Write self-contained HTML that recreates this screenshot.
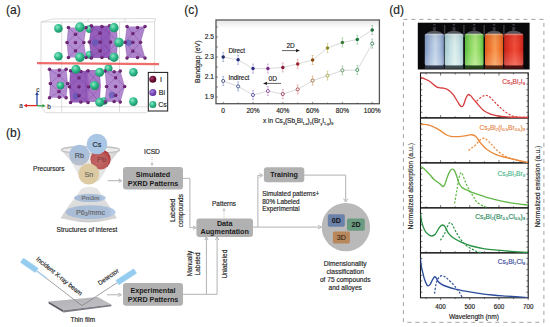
<!DOCTYPE html>
<html><head><meta charset="utf-8"><style>
html,body{margin:0;padding:0;background:#fff;width:550px;height:327px;overflow:hidden;}
svg{display:block;font-family:"Liberation Sans",sans-serif;}
</style></head><body><svg width="550" height="327" viewBox="0 0 550 327" font-family="Liberation Sans, sans-serif"><defs>
<radialGradient id="gCs" cx="0.38" cy="0.35" r="0.7"><stop offset="0" stop-color="#8fe8c8"/><stop offset="0.45" stop-color="#35c08e"/><stop offset="1" stop-color="#158a62"/></radialGradient>
<radialGradient id="gI" cx="0.38" cy="0.35" r="0.7"><stop offset="0" stop-color="#a84874"/><stop offset="0.5" stop-color="#6e0c34"/><stop offset="1" stop-color="#4a0420"/></radialGradient>
<radialGradient id="gBi" cx="0.38" cy="0.35" r="0.7"><stop offset="0" stop-color="#a88ad8"/><stop offset="0.5" stop-color="#7a4ab8"/><stop offset="1" stop-color="#5a2a98"/></radialGradient>
<linearGradient id="gFun" x1="0" y1="0" x2="1" y2="0"><stop offset="0" stop-color="#d4d4d4"/><stop offset="0.2" stop-color="#e6e6e6"/><stop offset="0.5" stop-color="#ececec"/><stop offset="0.8" stop-color="#e2e2e2"/><stop offset="1" stop-color="#cfcfcf"/></linearGradient><linearGradient id="gRb" x1="0" y1="0" x2="0" y2="1"><stop offset="0" stop-color="#a8c2e0"/><stop offset="0.6" stop-color="#aebfd6"/><stop offset="1" stop-color="#bcc0c8"/></linearGradient>
<linearGradient id="gCone" x1="0" y1="0" x2="0" y2="1"><stop offset="0" stop-color="#e8e8e8"/><stop offset="0.5" stop-color="#dcdcdc"/><stop offset="1" stop-color="#d0d0d0"/></linearGradient>
<linearGradient id="gFilm" x1="0" y1="0" x2="1" y2="1"><stop offset="0" stop-color="#b2b2b6"/><stop offset="1" stop-color="#c2c2c6"/></linearGradient><radialGradient id="gDot" cx="0.4" cy="0.35" r="0.7"><stop offset="0" stop-color="#8a3a90"/><stop offset="1" stop-color="#4a0a52"/></radialGradient><radialGradient id="gPb" cx="0.42" cy="0.58" r="0.62"><stop offset="0" stop-color="#c26a6a"/><stop offset="0.75" stop-color="#ba5656"/><stop offset="1" stop-color="#a82a2a"/></radialGradient><linearGradient id="vov" x1="0" y1="0" x2="0" y2="1"><stop offset="0" stop-color="#000" stop-opacity="0.08"/><stop offset="0.5" stop-color="#fff" stop-opacity="0"/><stop offset="1" stop-color="#fff" stop-opacity="0.22"/></linearGradient><linearGradient id="gEl" x1="0" y1="0" x2="1" y2="0"><stop offset="0" stop-color="#a8bcd6"/><stop offset="0.85" stop-color="#aabed8"/><stop offset="1" stop-color="#b8d0ec"/></linearGradient><linearGradient id="gTop" x1="0" y1="0" x2="0" y2="1"><stop offset="0" stop-color="#e8e8e8"/><stop offset="1" stop-color="#ffffff"/></linearGradient></defs><rect width="550" height="327" fill="#fff"/><text x="6" y="14.2" font-size="12" fill="#222" stroke="#222" stroke-width="0.15">(a)</text><text x="184.2" y="14.2" font-size="12" fill="#222" stroke="#222" stroke-width="0.15">(c)</text><text x="389.3" y="14.2" font-size="12" fill="#222" stroke="#222" stroke-width="0.15">(d)</text><text x="6" y="136.8" font-size="12" fill="#222" stroke="#222" stroke-width="0.15">(b)</text><path d="M41 22 L154.5 22 M41 22 L52.7 19 L155.6 18.6 L154.5 22 M41 22 L41 106.8 M154.5 22 L154.5 106.8 M41 106.8 L150 106.8 M45.6 112.7 L146 112.7 M41 106.8 L45.6 112.7 M146 112.7 L154.5 106.8 M61.7 22 L61.7 112 M119.5 22 L119.5 112 M88 19 L88 22 M125 19 L125 22" stroke="#c4c4c4" stroke-width="0.6" fill="none"/><circle cx="89.6" cy="29" r="4" fill="url(#gCs)"/><circle cx="89.6" cy="54.7" r="4" fill="url(#gCs)"/><circle cx="108.5" cy="68.6" r="4" fill="url(#gCs)"/><circle cx="104" cy="101" r="3.8" fill="url(#gCs)"/><path d="M68.4 27.6 L86 27.6 L83.8 42.5 L86 57.4 L68.4 57.4 L67.0 42.5 Z" fill="#a577c8" fill-opacity="0.85"/><path d="M68.4 27.6 L75.4 34.156 L86 27.6 M67.0 42.5 L75.4 34.156 L83.8 42.5 L75.4 50.844 L67.0 42.5 M68.4 57.4 L75.4 50.844 L86 57.4 M68.4 27.6 L67.0 42.5 L68.4 57.4 M86 27.6 L83.8 42.5 L86 57.4" stroke="#6a2c92" stroke-width="0.5" stroke-opacity="0.6" fill="none"/><path d="M91.3 25.8 L109.5 25.8 L110.5 41.85 L109.5 57.9 L91.3 57.9 L89.3 41.85 Z" fill="#8a4cb2" fill-opacity="0.9"/><path d="M91.3 25.8 L99.9 32.862 L109.5 25.8 M89.3 41.85 L99.9 32.862 L110.5 41.85 L99.9 50.837999999999994 L89.3 41.85 M91.3 57.9 L99.9 50.837999999999994 L109.5 57.9 M91.3 25.8 L89.3 41.85 L91.3 57.9 M109.5 25.8 L110.5 41.85 L109.5 57.9" stroke="#6a2c92" stroke-width="0.5" stroke-opacity="0.6" fill="none"/><circle cx="95.3" cy="42.5" r="3.2" fill="#5a58b8" opacity="0.7"/><path d="M101 26.4 L116.5 26.4 L117.5 41.9 L116.5 57.4 L101 57.4 L101.5 41.9 Z" fill="#9058b8" fill-opacity="0.75"/><path d="M101 26.4 L109.5 33.22 L116.5 26.4 M101.5 41.9 L109.5 33.22 L117.5 41.9 L109.5 50.58 L101.5 41.9 M101 57.4 L109.5 50.58 L116.5 57.4 M101 26.4 L101.5 41.9 L101 57.4 M116.5 26.4 L117.5 41.9 L116.5 57.4" stroke="#6a2c92" stroke-width="0.5" stroke-opacity="0.6" fill="none"/><path d="M127 26.6 L145 26.6 L140.5 42.25 L145 57.9 L127 57.9 L125 42.25 Z" fill="#a070c4" fill-opacity="0.85"/><path d="M127 26.6 L132.75 33.486000000000004 L145 26.6 M125 42.25 L132.75 33.486000000000004 L140.5 42.25 L132.75 51.013999999999996 L125 42.25 M127 57.9 L132.75 51.013999999999996 L145 57.9 M127 26.6 L125 42.25 L127 57.9 M145 26.6 L140.5 42.25 L145 57.9" stroke="#6a2c92" stroke-width="0.5" stroke-opacity="0.6" fill="none"/><circle cx="128.8" cy="42.8" r="3.2" fill="#5a58b8" opacity="0.7"/><path d="M49.5 69.3 L66.1 69.3 L67.6 83.55 L66.1 97.8 L49.5 97.8 L50.3 83.55 Z" fill="#a577c8" fill-opacity="0.85"/><path d="M49.5 69.3 L58.949999999999996 75.57 L66.1 69.3 M50.3 83.55 L58.949999999999996 75.57 L67.6 83.55 L58.949999999999996 91.53 L50.3 83.55 M49.5 97.8 L58.949999999999996 91.53 L66.1 97.8 M49.5 69.3 L50.3 83.55 L49.5 97.8 M66.1 69.3 L67.6 83.55 L66.1 97.8" stroke="#6a2c92" stroke-width="0.5" stroke-opacity="0.6" fill="none"/><path d="M70.5 70.8 L88 70.8 L88.5 86.65 L88 102.5 L70.5 102.5 L69.3 86.65 Z" fill="#8a4cb2" fill-opacity="0.9"/><path d="M70.5 70.8 L78.9 77.774 L88 70.8 M69.3 86.65 L78.9 77.774 L88.5 86.65 L78.9 95.526 L69.3 86.65 M70.5 102.5 L78.9 95.526 L88 102.5 M70.5 70.8 L69.3 86.65 L70.5 102.5 M88 70.8 L88.5 86.65 L88 102.5" stroke="#6a2c92" stroke-width="0.5" stroke-opacity="0.6" fill="none"/><circle cx="76" cy="96" r="3.2" fill="#5a58b8" opacity="0.7"/><path d="M86 70 L99.5 70 L100.5 86.0 L99.5 102 L86 102 L86 86.0 Z" fill="#9a62be" fill-opacity="0.85"/><path d="M86 70 L93.25 77.04 L99.5 70 M86 86.0 L93.25 77.04 L100.5 86.0 L93.25 94.96000000000001 L86 86.0 M86 102 L93.25 94.96000000000001 L99.5 102 M86 70 L86 86.0 L86 102 M99.5 70 L100.5 86.0 L99.5 102" stroke="#6a2c92" stroke-width="0.5" stroke-opacity="0.6" fill="none"/><path d="M105 71 L120.2 71 L124.60000000000001 86.5 L120.2 102 L105 102 L106.5 86.5 Z" fill="#a577c8" fill-opacity="0.85"/><path d="M105 71 L115.55000000000001 77.82 L120.2 71 M106.5 86.5 L115.55000000000001 77.82 L124.60000000000001 86.5 L115.55000000000001 95.18 L106.5 86.5 M105 102 L115.55000000000001 95.18 L120.2 102 M105 71 L106.5 86.5 L105 102 M120.2 71 L124.60000000000001 86.5 L120.2 102" stroke="#6a2c92" stroke-width="0.5" stroke-opacity="0.6" fill="none"/><circle cx="112" cy="95" r="3.2" fill="#5a58b8" opacity="0.7"/><circle cx="68.4" cy="27.6" r="1.75" fill="url(#gDot)"/><circle cx="86.0" cy="27.6" r="1.75" fill="url(#gDot)"/><circle cx="68.4" cy="57.4" r="1.75" fill="url(#gDot)"/><circle cx="86.0" cy="57.4" r="1.75" fill="url(#gDot)"/><circle cx="67.0" cy="42.5" r="1.75" fill="url(#gDot)"/><circle cx="83.8" cy="42.5" r="1.75" fill="url(#gDot)"/><circle cx="75.4" cy="34.2" r="1.75" fill="url(#gDot)"/><circle cx="75.4" cy="50.8" r="1.75" fill="url(#gDot)"/><circle cx="75.4" cy="42.5" r="1.75" fill="url(#gDot)"/><circle cx="78.7" cy="28.4" r="1.75" fill="url(#gDot)"/><circle cx="78.7" cy="56.9" r="1.75" fill="url(#gDot)"/><circle cx="91.3" cy="25.8" r="1.75" fill="url(#gDot)"/><circle cx="109.5" cy="25.8" r="1.75" fill="url(#gDot)"/><circle cx="91.3" cy="57.9" r="1.75" fill="url(#gDot)"/><circle cx="109.5" cy="57.9" r="1.75" fill="url(#gDot)"/><circle cx="89.3" cy="41.9" r="1.75" fill="url(#gDot)"/><circle cx="110.5" cy="41.9" r="1.75" fill="url(#gDot)"/><circle cx="99.9" cy="32.9" r="1.75" fill="url(#gDot)"/><circle cx="99.9" cy="50.8" r="1.75" fill="url(#gDot)"/><circle cx="99.9" cy="41.9" r="1.75" fill="url(#gDot)"/><circle cx="101.9" cy="26.6" r="1.75" fill="url(#gDot)"/><circle cx="101.9" cy="57.4" r="1.75" fill="url(#gDot)"/><circle cx="127.0" cy="26.6" r="1.75" fill="url(#gDot)"/><circle cx="145.0" cy="26.6" r="1.75" fill="url(#gDot)"/><circle cx="127.0" cy="57.9" r="1.75" fill="url(#gDot)"/><circle cx="145.0" cy="57.9" r="1.75" fill="url(#gDot)"/><circle cx="125.0" cy="42.2" r="1.75" fill="url(#gDot)"/><circle cx="140.5" cy="42.2" r="1.75" fill="url(#gDot)"/><circle cx="132.8" cy="33.5" r="1.75" fill="url(#gDot)"/><circle cx="132.8" cy="51.0" r="1.75" fill="url(#gDot)"/><circle cx="132.8" cy="42.2" r="1.75" fill="url(#gDot)"/><circle cx="137.5" cy="27.4" r="1.75" fill="url(#gDot)"/><circle cx="137.5" cy="57.4" r="1.75" fill="url(#gDot)"/><circle cx="49.5" cy="69.3" r="1.75" fill="url(#gDot)"/><circle cx="66.1" cy="69.3" r="1.75" fill="url(#gDot)"/><circle cx="49.5" cy="97.8" r="1.75" fill="url(#gDot)"/><circle cx="66.1" cy="97.8" r="1.75" fill="url(#gDot)"/><circle cx="50.3" cy="83.5" r="1.75" fill="url(#gDot)"/><circle cx="67.6" cy="83.5" r="1.75" fill="url(#gDot)"/><circle cx="58.9" cy="75.6" r="1.75" fill="url(#gDot)"/><circle cx="58.9" cy="91.5" r="1.75" fill="url(#gDot)"/><circle cx="58.9" cy="83.5" r="1.75" fill="url(#gDot)"/><circle cx="59.3" cy="70.1" r="1.75" fill="url(#gDot)"/><circle cx="59.3" cy="97.3" r="1.75" fill="url(#gDot)"/><circle cx="70.5" cy="70.8" r="1.75" fill="url(#gDot)"/><circle cx="88.0" cy="70.8" r="1.75" fill="url(#gDot)"/><circle cx="70.5" cy="102.5" r="1.75" fill="url(#gDot)"/><circle cx="88.0" cy="102.5" r="1.75" fill="url(#gDot)"/><circle cx="69.3" cy="86.7" r="1.75" fill="url(#gDot)"/><circle cx="88.5" cy="86.7" r="1.75" fill="url(#gDot)"/><circle cx="78.9" cy="77.8" r="1.75" fill="url(#gDot)"/><circle cx="78.9" cy="95.5" r="1.75" fill="url(#gDot)"/><circle cx="78.9" cy="86.7" r="1.75" fill="url(#gDot)"/><circle cx="80.8" cy="71.6" r="1.75" fill="url(#gDot)"/><circle cx="80.8" cy="102.0" r="1.75" fill="url(#gDot)"/><circle cx="105.0" cy="71.0" r="1.75" fill="url(#gDot)"/><circle cx="120.2" cy="71.0" r="1.75" fill="url(#gDot)"/><circle cx="105.0" cy="102.0" r="1.75" fill="url(#gDot)"/><circle cx="120.2" cy="102.0" r="1.75" fill="url(#gDot)"/><circle cx="106.5" cy="86.5" r="1.75" fill="url(#gDot)"/><circle cx="124.6" cy="86.5" r="1.75" fill="url(#gDot)"/><circle cx="115.6" cy="77.8" r="1.75" fill="url(#gDot)"/><circle cx="115.6" cy="95.2" r="1.75" fill="url(#gDot)"/><circle cx="115.6" cy="86.5" r="1.75" fill="url(#gDot)"/><circle cx="114.1" cy="71.8" r="1.75" fill="url(#gDot)"/><circle cx="114.1" cy="101.5" r="1.75" fill="url(#gDot)"/><circle cx="58.4" cy="28.4" r="4.3" fill="url(#gCs)"/><circle cx="79.9" cy="27.1" r="4.8" fill="url(#gCs)"/><circle cx="114" cy="27.7" r="4.6" fill="url(#gCs)"/><circle cx="119" cy="42.5" r="4.8" fill="url(#gCs)"/><circle cx="58.4" cy="56.3" r="4.3" fill="url(#gCs)"/><circle cx="79.9" cy="57.3" r="4.8" fill="url(#gCs)"/><circle cx="114" cy="57.3" r="4.6" fill="url(#gCs)"/><circle cx="60.5" cy="85.5" r="3.8" fill="url(#gCs)"/><circle cx="75.9" cy="69.3" r="4.5" fill="url(#gCs)"/><circle cx="94.5" cy="85.5" r="4.5" fill="url(#gCs)"/><circle cx="99.7" cy="72.3" r="4.5" fill="url(#gCs)"/><circle cx="99.7" cy="102.3" r="4.5" fill="url(#gCs)"/><circle cx="133.4" cy="72.3" r="4.3" fill="url(#gCs)"/><circle cx="133.4" cy="101.6" r="4.3" fill="url(#gCs)"/><path d="M37 63.2 L159 64.2" stroke="#ec4a48" stroke-width="2.3" opacity="0.8"/><path d="M37 105.6 L37 94" stroke="#2848a8" stroke-width="1.3"/><path d="M35.2 95 L37 91.6 L38.8 95 Z" fill="#2848a8"/><path d="M37 105.6 L26 105.6" stroke="#e02828" stroke-width="1.3"/><path d="M27 103.8 L23.6 105.6 L27 107.4 Z" fill="#e02828"/><path d="M37 105.8 L43 105.8" stroke="#30a040" stroke-width="1.3"/><path d="M42.5 104.1 L45.5 105.8 L42.5 107.5 Z" fill="#30a040"/><text x="36.3" y="91.5" font-size="6.4" fill="#333" stroke="#333" stroke-width="0.15">c</text><text x="19.3" y="107.8" font-size="6.4" fill="#333" stroke="#333" stroke-width="0.15">a</text><text x="47.3" y="109.2" font-size="6.4" fill="#333" stroke="#333" stroke-width="0.15">b</text><rect x="148.3" y="72.4" width="19.4" height="38.6" fill="#fff" stroke="#1a1a1a" stroke-width="1"/><circle cx="152.8" cy="79.3" r="3.5" fill="url(#gI)"/><circle cx="152.8" cy="92.6" r="3.5" fill="url(#gBi)"/><circle cx="152.8" cy="104.6" r="3.5" fill="url(#gCs)"/><text x="160" y="81.6" font-size="7" fill="#222" stroke="#222" stroke-width="0.15">I</text><text x="158.8" y="95.2" font-size="7" fill="#222" stroke="#222" stroke-width="0.15">Bi</text><text x="158.2" y="107.1" font-size="7" fill="#222" stroke="#222" stroke-width="0.15">Cs</text><rect x="216" y="20" width="163.4" height="83.7" fill="#fff" stroke="none"/><rect x="216.6" y="20.6" width="162.2" height="8" fill="url(#gTop)"/><rect x="216" y="20" width="163.4" height="83.7" fill="none" stroke="#555" stroke-width="1.3"/><path d="M216 97.0 L218.0 97.0" stroke="#444" stroke-width="0.6"/><path d="M216 87.0 L218.0 87.0" stroke="#444" stroke-width="0.6"/><path d="M216 77.0 L218.0 77.0" stroke="#444" stroke-width="0.6"/><path d="M216 67.0 L218.0 67.0" stroke="#444" stroke-width="0.6"/><path d="M216 57.0 L218.0 57.0" stroke="#444" stroke-width="0.6"/><path d="M216 47.0 L218.0 47.0" stroke="#444" stroke-width="0.6"/><path d="M216 37.0 L218.0 37.0" stroke="#444" stroke-width="0.6"/><path d="M216 27.0 L218.0 27.0" stroke="#444" stroke-width="0.6"/><text x="214" y="99.3" font-size="6.6" fill="#222" text-anchor="end" stroke="#222" stroke-width="0.15">1.9</text><text x="214" y="79.3" font-size="6.6" fill="#222" text-anchor="end" stroke="#222" stroke-width="0.15">2.1</text><text x="214" y="59.3" font-size="6.6" fill="#222" text-anchor="end" stroke="#222" stroke-width="0.15">2.3</text><text x="214" y="39.3" font-size="6.6" fill="#222" text-anchor="end" stroke="#222" stroke-width="0.15">2.5</text><path d="M223.2 103.8 L223.2 101.8" stroke="#444" stroke-width="0.6"/><path d="M238.1 103.8 L238.1 102.5" stroke="#444" stroke-width="0.6"/><path d="M253.0 103.8 L253.0 101.8" stroke="#444" stroke-width="0.6"/><path d="M267.9 103.8 L267.9 102.5" stroke="#444" stroke-width="0.6"/><path d="M282.8 103.8 L282.8 101.8" stroke="#444" stroke-width="0.6"/><path d="M297.7 103.8 L297.7 102.5" stroke="#444" stroke-width="0.6"/><path d="M312.6 103.8 L312.6 101.8" stroke="#444" stroke-width="0.6"/><path d="M327.5 103.8 L327.5 102.5" stroke="#444" stroke-width="0.6"/><path d="M342.4 103.8 L342.4 101.8" stroke="#444" stroke-width="0.6"/><path d="M357.3 103.8 L357.3 102.5" stroke="#444" stroke-width="0.6"/><path d="M372.2 103.8 L372.2 101.8" stroke="#444" stroke-width="0.6"/><text x="223.2" y="112.5" font-size="6.6" fill="#222" text-anchor="middle" stroke="#222" stroke-width="0.15">0</text><text x="253.0" y="112.5" font-size="6.6" fill="#222" text-anchor="middle" stroke="#222" stroke-width="0.15">20%</text><text x="282.8" y="112.5" font-size="6.6" fill="#222" text-anchor="middle" stroke="#222" stroke-width="0.15">40%</text><text x="312.6" y="112.5" font-size="6.6" fill="#222" text-anchor="middle" stroke="#222" stroke-width="0.15">60%</text><text x="342.4" y="112.5" font-size="6.6" fill="#222" text-anchor="middle" stroke="#222" stroke-width="0.15">80%</text><text x="372.2" y="112.5" font-size="6.6" fill="#222" text-anchor="middle" stroke="#222" stroke-width="0.15">100%</text><text transform="translate(200 61.8) rotate(-90)" font-size="6.9" fill="#222" text-anchor="middle" stroke="#222" stroke-width="0.15">Bandgap (eV)</text><text x="263" y="123.3" font-size="6.5" fill="#222" stroke="#222" stroke-width="0.15">x in Cs<tspan font-size="3.6" dy="1.5">3</tspan><tspan dy="-1.5">(Sb</tspan><tspan font-size="3.6" dy="1.5">x</tspan><tspan dy="-1.5">Bi</tspan><tspan font-size="3.6" dy="1.5">1-x</tspan><tspan dy="-1.5">)</tspan><tspan font-size="3.6" dy="1.5">2</tspan><tspan dy="-1.5">(Br</tspan><tspan font-size="3.6" dy="1.5">y</tspan><tspan dy="-1.5">I</tspan><tspan font-size="3.6" dy="1.5">1-y</tspan><tspan dy="-1.5">)</tspan><tspan font-size="3.6" dy="1.5">9</tspan></text><polyline points="223.2,57 238.1,59.8 253.0,68.6 267.9,68.6 282.8,67.4 297.7,63.9 312.6,60 327.5,48 342.4,42.4 357.3,39.6 372.2,30" fill="none" stroke="#c8c8c8" stroke-width="0.7"/><polyline points="223.2,81 238.1,86.4 253.0,95 267.9,91 282.8,94 297.7,89.4 312.6,80.6 327.5,75.6 342.4,70.4 357.3,70 372.2,43.6" fill="none" stroke="#c8c8c8" stroke-width="0.7"/><path d="M223.2 52.5 L223.2 61.5 M222.2 52.5 L224.2 52.5 M222.2 61.5 L224.2 61.5" stroke="#8090c0" stroke-width="0.6"/><circle cx="223.2" cy="57" r="1.75" fill="#1f2d6b"/><path d="M223.2 76.5 L223.2 85.5 M222.2 76.5 L224.2 76.5 M222.2 85.5 L224.2 85.5" stroke="#8090c0" stroke-width="0.6"/><circle cx="223.2" cy="81" r="1.55" fill="#fff" stroke="#1f2d6b" stroke-width="0.75"/><path d="M238.1 55.3 L238.1 64.3 M237.1 55.3 L239.1 55.3 M237.1 64.3 L239.1 64.3" stroke="#8090c8" stroke-width="0.6"/><circle cx="238.1" cy="59.8" r="1.75" fill="#22307a"/><path d="M238.1 81.9 L238.1 90.9 M237.1 81.9 L239.1 81.9 M237.1 90.9 L239.1 90.9" stroke="#8090c8" stroke-width="0.6"/><circle cx="238.1" cy="86.4" r="1.55" fill="#fff" stroke="#22307a" stroke-width="0.75"/><path d="M253.0 64.1 L253.0 73.1 M252.0 64.1 L254.0 64.1 M252.0 73.1 L254.0 73.1" stroke="#a090d0" stroke-width="0.6"/><circle cx="253.0" cy="68.6" r="1.75" fill="#302c8c"/><path d="M253.0 90.5 L253.0 99.5 M252.0 90.5 L254.0 90.5 M252.0 99.5 L254.0 99.5" stroke="#a090d0" stroke-width="0.6"/><circle cx="253.0" cy="95" r="1.55" fill="#fff" stroke="#302c8c" stroke-width="0.75"/><path d="M267.9 64.1 L267.9 73.1 M266.9 64.1 L268.9 64.1 M266.9 73.1 L268.9 73.1" stroke="#c090c8" stroke-width="0.6"/><circle cx="267.9" cy="68.6" r="1.75" fill="#7a2a8a"/><path d="M267.9 86.5 L267.9 95.5 M266.9 86.5 L268.9 86.5 M266.9 95.5 L268.9 95.5" stroke="#c090c8" stroke-width="0.6"/><circle cx="267.9" cy="91" r="1.55" fill="#fff" stroke="#7a2a8a" stroke-width="0.75"/><path d="M282.8 62.900000000000006 L282.8 71.9 M281.8 62.900000000000006 L283.8 62.900000000000006 M281.8 71.9 L283.8 71.9" stroke="#d090a0" stroke-width="0.6"/><circle cx="282.8" cy="67.4" r="1.75" fill="#8a1a3a"/><path d="M282.8 89.5 L282.8 98.5 M281.8 89.5 L283.8 89.5 M281.8 98.5 L283.8 98.5" stroke="#d090a0" stroke-width="0.6"/><circle cx="282.8" cy="94" r="1.55" fill="#fff" stroke="#8a1a3a" stroke-width="0.75"/><path d="M297.7 59.4 L297.7 68.4 M296.7 59.4 L298.7 59.4 M296.7 68.4 L298.7 68.4" stroke="#e09090" stroke-width="0.6"/><circle cx="297.7" cy="63.9" r="1.75" fill="#a0202a"/><path d="M297.7 84.9 L297.7 93.9 M296.7 84.9 L298.7 84.9 M296.7 93.9 L298.7 93.9" stroke="#e09090" stroke-width="0.6"/><circle cx="297.7" cy="89.4" r="1.55" fill="#fff" stroke="#a0202a" stroke-width="0.75"/><path d="M312.6 55.5 L312.6 64.5 M311.6 55.5 L313.6 55.5 M311.6 64.5 L313.6 64.5" stroke="#d0a070" stroke-width="0.6"/><circle cx="312.6" cy="60" r="1.75" fill="#8a4a10"/><path d="M312.6 76.1 L312.6 85.1 M311.6 76.1 L313.6 76.1 M311.6 85.1 L313.6 85.1" stroke="#d0a070" stroke-width="0.6"/><circle cx="312.6" cy="80.6" r="1.55" fill="#fff" stroke="#8a4a10" stroke-width="0.75"/><path d="M327.5 43.5 L327.5 52.5 M326.5 43.5 L328.5 43.5 M326.5 52.5 L328.5 52.5" stroke="#c8c070" stroke-width="0.6"/><circle cx="327.5" cy="48" r="1.75" fill="#8a8a20"/><path d="M327.5 71.1 L327.5 80.1 M326.5 71.1 L328.5 71.1 M326.5 80.1 L328.5 80.1" stroke="#c8c070" stroke-width="0.6"/><circle cx="327.5" cy="75.6" r="1.55" fill="#fff" stroke="#8a8a20" stroke-width="0.75"/><path d="M342.4 37.9 L342.4 46.9 M341.4 37.9 L343.4 37.9 M341.4 46.9 L343.4 46.9" stroke="#90c090" stroke-width="0.6"/><circle cx="342.4" cy="42.4" r="1.75" fill="#3a7a3a"/><path d="M342.4 65.9 L342.4 74.9 M341.4 65.9 L343.4 65.9 M341.4 74.9 L343.4 74.9" stroke="#90c090" stroke-width="0.6"/><circle cx="342.4" cy="70.4" r="1.55" fill="#fff" stroke="#3a7a3a" stroke-width="0.75"/><path d="M357.3 35.1 L357.3 44.1 M356.3 35.1 L358.3 35.1 M356.3 44.1 L358.3 44.1" stroke="#80c090" stroke-width="0.6"/><circle cx="357.3" cy="39.6" r="1.75" fill="#1a7a3a"/><path d="M357.3 65.5 L357.3 74.5 M356.3 65.5 L358.3 65.5 M356.3 74.5 L358.3 74.5" stroke="#80c090" stroke-width="0.6"/><circle cx="357.3" cy="70" r="1.55" fill="#fff" stroke="#1a7a3a" stroke-width="0.75"/><path d="M372.2 25.5 L372.2 34.5 M371.2 25.5 L373.2 25.5 M371.2 34.5 L373.2 34.5" stroke="#80b090" stroke-width="0.6"/><circle cx="372.2" cy="30" r="1.75" fill="#1a6a3a"/><path d="M372.2 39.1 L372.2 48.1 M371.2 39.1 L373.2 39.1 M371.2 48.1 L373.2 48.1" stroke="#80b090" stroke-width="0.6"/><circle cx="372.2" cy="43.6" r="1.55" fill="#fff" stroke="#1a6a3a" stroke-width="0.75"/><text x="228.4" y="53" font-size="6.4" fill="#222" stroke="#222" stroke-width="0.15">Direct</text><text x="228.4" y="80.4" font-size="6.4" fill="#222" stroke="#222" stroke-width="0.15">Indirect</text><text x="286.4" y="47.7" font-size="6.5" fill="#222" stroke="#222" stroke-width="0.15">2D</text><text x="268.5" y="80.8" font-size="6.6" fill="#222" stroke="#222" stroke-width="0.15">0D</text><path d="M282 50.6 L297 50.6" stroke="#222" stroke-width="0.7"/><path d="M296 49 L300 50.6 L296 52.2 Z" fill="#222"/><path d="M281 83.4 L266 83.4" stroke="#222" stroke-width="0.7"/><path d="M267 81.8 L263 83.4 L267 85 Z" fill="#222"/><rect x="403.4" y="19.4" width="140.5" height="302.9" fill="none" stroke="#999" stroke-width="0.9" stroke-dasharray="4 4"/><rect x="417.8" y="22.7" width="111.8" height="46.8" fill="#09090b"/><linearGradient id="vg0" x1="0" y1="0" x2="1" y2="0"><stop offset="0" stop-color="#7c94c0"/><stop offset="0.3" stop-color="#a6bcda"/><stop offset="0.55" stop-color="#c6d6ea"/><stop offset="0.8" stop-color="#a6bcda"/><stop offset="1" stop-color="#7c94c0"/></linearGradient><path d="M425.8 35 Q427.092 31.5 432.058 31 L436.642 31 Q441.608 31.5 442.9 35 Z" fill="#b0b6be" opacity="0.45"/><rect x="432.822" y="27" width="3.0559999999999947" height="4" fill="#80848c" opacity="0.35"/><rect x="433.204" y="24" width="2.291999999999996" height="1.6" fill="#a0a4ac" opacity="0.35"/><path d="M444.59999999999997 25 L444.59999999999997 37" stroke="#70747a" stroke-width="1.4" opacity="0.5"/><rect x="424.8" y="33.8" width="19.099999999999966" height="31.8" rx="1.5" fill="url(#vg0)"/><rect x="425.3" y="33.8" width="18.099999999999966" height="1.4" fill="#ffffff" opacity="0.4"/><rect x="424.8" y="33.8" width="19.099999999999966" height="31.8" rx="1.5" fill="url(#vov)"/><rect x="424.8" y="65.6" width="19.099999999999966" height="3.2" fill="#7c94c0" opacity="0.35"/><linearGradient id="vg1" x1="0" y1="0" x2="1" y2="0"><stop offset="0" stop-color="#a2c8cf"/><stop offset="0.3" stop-color="#c4e0e3"/><stop offset="0.55" stop-color="#dcefed"/><stop offset="0.8" stop-color="#c4e0e3"/><stop offset="1" stop-color="#a2c8cf"/></linearGradient><path d="M445.7 35 Q446.92 31.5 451.72999999999996 31 L456.17 31 Q460.97999999999996 31.5 462.2 35 Z" fill="#b0b6be" opacity="0.45"/><rect x="452.46999999999997" y="27" width="2.96" height="4" fill="#80848c" opacity="0.35"/><rect x="452.84" y="24" width="2.2199999999999998" height="1.6" fill="#a0a4ac" opacity="0.35"/><path d="M463.9 25 L463.9 37" stroke="#70747a" stroke-width="1.4" opacity="0.5"/><rect x="444.7" y="33.8" width="18.5" height="31.8" rx="1.5" fill="url(#vg1)"/><rect x="445.2" y="33.8" width="17.5" height="1.4" fill="#ffffff" opacity="0.4"/><rect x="444.7" y="33.8" width="18.5" height="31.8" rx="1.5" fill="url(#vov)"/><rect x="444.7" y="65.6" width="18.5" height="3.2" fill="#a2c8cf" opacity="0.35"/><linearGradient id="vg2" x1="0" y1="0" x2="1" y2="0"><stop offset="0" stop-color="#5cbc3c"/><stop offset="0.3" stop-color="#8ad860"/><stop offset="0.55" stop-color="#b0e880"/><stop offset="0.8" stop-color="#8ad860"/><stop offset="1" stop-color="#5cbc3c"/></linearGradient><path d="M465.9 35 Q467.132 31.5 471.96799999999996 31 L476.432 31 Q481.268 31.5 482.5 35 Z" fill="#b0b6be" opacity="0.45"/><rect x="472.712" y="27" width="2.9760000000000035" height="4" fill="#80848c" opacity="0.35"/><rect x="473.084" y="24" width="2.2320000000000024" height="1.6" fill="#a0a4ac" opacity="0.35"/><path d="M484.2 25 L484.2 37" stroke="#70747a" stroke-width="1.4" opacity="0.5"/><rect x="464.9" y="33.8" width="18.600000000000023" height="31.8" rx="1.5" fill="url(#vg2)"/><rect x="465.4" y="33.8" width="17.600000000000023" height="1.4" fill="#ffffff" opacity="0.4"/><rect x="464.9" y="33.8" width="18.600000000000023" height="31.8" rx="1.5" fill="url(#vov)"/><rect x="464.9" y="65.6" width="18.600000000000023" height="3.2" fill="#5cbc3c" opacity="0.35"/><linearGradient id="vg3" x1="0" y1="0" x2="1" y2="0"><stop offset="0" stop-color="#e25a1a"/><stop offset="0.3" stop-color="#f07a32"/><stop offset="0.55" stop-color="#f89a52"/><stop offset="0.8" stop-color="#f07a32"/><stop offset="1" stop-color="#e25a1a"/></linearGradient><path d="M486 35 Q487.184 31.5 491.916 31 L496.284 31 Q501.01599999999996 31.5 502.2 35 Z" fill="#b0b6be" opacity="0.45"/><rect x="492.644" y="27" width="2.911999999999998" height="4" fill="#80848c" opacity="0.35"/><rect x="493.008" y="24" width="2.1839999999999984" height="1.6" fill="#a0a4ac" opacity="0.35"/><path d="M503.9 25 L503.9 37" stroke="#70747a" stroke-width="1.4" opacity="0.5"/><rect x="485" y="33.8" width="18.19999999999999" height="31.8" rx="1.5" fill="url(#vg3)"/><rect x="485.5" y="33.8" width="17.19999999999999" height="1.4" fill="#ffffff" opacity="0.4"/><rect x="485" y="33.8" width="18.19999999999999" height="31.8" rx="1.5" fill="url(#vov)"/><rect x="485" y="65.6" width="18.19999999999999" height="3.2" fill="#e25a1a" opacity="0.35"/><linearGradient id="vg4" x1="0" y1="0" x2="1" y2="0"><stop offset="0" stop-color="#c82018"/><stop offset="0.3" stop-color="#e23626"/><stop offset="0.55" stop-color="#f04c38"/><stop offset="0.8" stop-color="#e23626"/><stop offset="1" stop-color="#c82018"/></linearGradient><path d="M505.1 35 Q506.404 31.5 511.396 31 L516.004 31 Q520.996 31.5 522.3 35 Z" fill="#b0b6be" opacity="0.45"/><rect x="512.164" y="27" width="3.071999999999989" height="4" fill="#80848c" opacity="0.35"/><rect x="512.548" y="24" width="2.303999999999992" height="1.6" fill="#a0a4ac" opacity="0.35"/><rect x="504.1" y="33.8" width="19.199999999999932" height="31.8" rx="1.5" fill="url(#vg4)"/><rect x="504.6" y="33.8" width="18.199999999999932" height="1.4" fill="#ffffff" opacity="0.4"/><rect x="504.1" y="33.8" width="19.199999999999932" height="31.8" rx="1.5" fill="url(#vov)"/><rect x="504.1" y="65.6" width="19.199999999999932" height="3.2" fill="#c82018" opacity="0.35"/><path d="M426.0 72.9 L426.0 74.5" stroke="#222" stroke-width="0.6"/><path d="M426.0 117.88 L426.0 116.28" stroke="#222" stroke-width="0.6"/><path d="M440.6 72.9 L440.6 75.7" stroke="#222" stroke-width="0.6"/><path d="M440.6 117.88 L440.6 115.08" stroke="#222" stroke-width="0.6"/><path d="M455.2 72.9 L455.2 74.5" stroke="#222" stroke-width="0.6"/><path d="M455.2 117.88 L455.2 116.28" stroke="#222" stroke-width="0.6"/><path d="M469.8 72.9 L469.8 75.7" stroke="#222" stroke-width="0.6"/><path d="M469.8 117.88 L469.8 115.08" stroke="#222" stroke-width="0.6"/><path d="M484.4 72.9 L484.4 74.5" stroke="#222" stroke-width="0.6"/><path d="M484.4 117.88 L484.4 116.28" stroke="#222" stroke-width="0.6"/><path d="M499.0 72.9 L499.0 75.7" stroke="#222" stroke-width="0.6"/><path d="M499.0 117.88 L499.0 115.08" stroke="#222" stroke-width="0.6"/><path d="M513.6 72.9 L513.6 74.5" stroke="#222" stroke-width="0.6"/><path d="M513.6 117.88 L513.6 116.28" stroke="#222" stroke-width="0.6"/><path d="M528.2 72.9 L528.2 75.7" stroke="#222" stroke-width="0.6"/><path d="M528.2 117.88 L528.2 115.08" stroke="#222" stroke-width="0.6"/><path d="M420.5 78.5 L422.4 78.5 M528.2 78.5 L526.3000000000001 78.5" stroke="#222" stroke-width="0.6"/><path d="M420.5 84.1 L422.4 84.1 M528.2 84.1 L526.3000000000001 84.1" stroke="#222" stroke-width="0.6"/><path d="M420.5 89.8 L422.4 89.8 M528.2 89.8 L526.3000000000001 89.8" stroke="#222" stroke-width="0.6"/><path d="M420.5 95.4 L422.4 95.4 M528.2 95.4 L526.3000000000001 95.4" stroke="#222" stroke-width="0.6"/><path d="M420.5 101.0 L422.4 101.0 M528.2 101.0 L526.3000000000001 101.0" stroke="#222" stroke-width="0.6"/><path d="M420.5 106.6 L422.4 106.6 M528.2 106.6 L526.3000000000001 106.6" stroke="#222" stroke-width="0.6"/><path d="M420.5 112.3 L422.4 112.3 M528.2 112.3 L526.3000000000001 112.3" stroke="#222" stroke-width="0.6"/><path d="M426.0 162.85999999999999 L426.0 161.26" stroke="#222" stroke-width="0.6"/><path d="M440.6 162.85999999999999 L440.6 160.05999999999997" stroke="#222" stroke-width="0.6"/><path d="M455.2 162.85999999999999 L455.2 161.26" stroke="#222" stroke-width="0.6"/><path d="M469.8 162.85999999999999 L469.8 160.05999999999997" stroke="#222" stroke-width="0.6"/><path d="M484.4 162.85999999999999 L484.4 161.26" stroke="#222" stroke-width="0.6"/><path d="M499.0 162.85999999999999 L499.0 160.05999999999997" stroke="#222" stroke-width="0.6"/><path d="M513.6 162.85999999999999 L513.6 161.26" stroke="#222" stroke-width="0.6"/><path d="M528.2 162.85999999999999 L528.2 160.05999999999997" stroke="#222" stroke-width="0.6"/><path d="M420.5 123.5 L422.4 123.5 M528.2 123.5 L526.3000000000001 123.5" stroke="#222" stroke-width="0.6"/><path d="M420.5 129.1 L422.4 129.1 M528.2 129.1 L526.3000000000001 129.1" stroke="#222" stroke-width="0.6"/><path d="M420.5 134.7 L422.4 134.7 M528.2 134.7 L526.3000000000001 134.7" stroke="#222" stroke-width="0.6"/><path d="M420.5 140.4 L422.4 140.4 M528.2 140.4 L526.3000000000001 140.4" stroke="#222" stroke-width="0.6"/><path d="M420.5 146.0 L422.4 146.0 M528.2 146.0 L526.3000000000001 146.0" stroke="#222" stroke-width="0.6"/><path d="M420.5 151.6 L422.4 151.6 M528.2 151.6 L526.3000000000001 151.6" stroke="#222" stroke-width="0.6"/><path d="M420.5 157.2 L422.4 157.2 M528.2 157.2 L526.3000000000001 157.2" stroke="#222" stroke-width="0.6"/><path d="M426.0 207.84 L426.0 206.24" stroke="#222" stroke-width="0.6"/><path d="M440.6 207.84 L440.6 205.04" stroke="#222" stroke-width="0.6"/><path d="M455.2 207.84 L455.2 206.24" stroke="#222" stroke-width="0.6"/><path d="M469.8 207.84 L469.8 205.04" stroke="#222" stroke-width="0.6"/><path d="M484.4 207.84 L484.4 206.24" stroke="#222" stroke-width="0.6"/><path d="M499.0 207.84 L499.0 205.04" stroke="#222" stroke-width="0.6"/><path d="M513.6 207.84 L513.6 206.24" stroke="#222" stroke-width="0.6"/><path d="M528.2 207.84 L528.2 205.04" stroke="#222" stroke-width="0.6"/><path d="M420.5 168.5 L422.4 168.5 M528.2 168.5 L526.3000000000001 168.5" stroke="#222" stroke-width="0.6"/><path d="M420.5 174.1 L422.4 174.1 M528.2 174.1 L526.3000000000001 174.1" stroke="#222" stroke-width="0.6"/><path d="M420.5 179.7 L422.4 179.7 M528.2 179.7 L526.3000000000001 179.7" stroke="#222" stroke-width="0.6"/><path d="M420.5 185.4 L422.4 185.4 M528.2 185.4 L526.3000000000001 185.4" stroke="#222" stroke-width="0.6"/><path d="M420.5 191.0 L422.4 191.0 M528.2 191.0 L526.3000000000001 191.0" stroke="#222" stroke-width="0.6"/><path d="M420.5 196.6 L422.4 196.6 M528.2 196.6 L526.3000000000001 196.6" stroke="#222" stroke-width="0.6"/><path d="M420.5 202.2 L422.4 202.2 M528.2 202.2 L526.3000000000001 202.2" stroke="#222" stroke-width="0.6"/><path d="M426.0 252.82 L426.0 251.22" stroke="#222" stroke-width="0.6"/><path d="M440.6 252.82 L440.6 250.01999999999998" stroke="#222" stroke-width="0.6"/><path d="M455.2 252.82 L455.2 251.22" stroke="#222" stroke-width="0.6"/><path d="M469.8 252.82 L469.8 250.01999999999998" stroke="#222" stroke-width="0.6"/><path d="M484.4 252.82 L484.4 251.22" stroke="#222" stroke-width="0.6"/><path d="M499.0 252.82 L499.0 250.01999999999998" stroke="#222" stroke-width="0.6"/><path d="M513.6 252.82 L513.6 251.22" stroke="#222" stroke-width="0.6"/><path d="M528.2 252.82 L528.2 250.01999999999998" stroke="#222" stroke-width="0.6"/><path d="M420.5 213.5 L422.4 213.5 M528.2 213.5 L526.3000000000001 213.5" stroke="#222" stroke-width="0.6"/><path d="M420.5 219.1 L422.4 219.1 M528.2 219.1 L526.3000000000001 219.1" stroke="#222" stroke-width="0.6"/><path d="M420.5 224.7 L422.4 224.7 M528.2 224.7 L526.3000000000001 224.7" stroke="#222" stroke-width="0.6"/><path d="M420.5 230.3 L422.4 230.3 M528.2 230.3 L526.3000000000001 230.3" stroke="#222" stroke-width="0.6"/><path d="M420.5 236.0 L422.4 236.0 M528.2 236.0 L526.3000000000001 236.0" stroke="#222" stroke-width="0.6"/><path d="M420.5 241.6 L422.4 241.6 M528.2 241.6 L526.3000000000001 241.6" stroke="#222" stroke-width="0.6"/><path d="M420.5 247.2 L422.4 247.2 M528.2 247.2 L526.3000000000001 247.2" stroke="#222" stroke-width="0.6"/><path d="M426.0 297.8 L426.0 299.08" stroke="#222" stroke-width="0.6"/><path d="M440.6 297.8 L440.6 300.04" stroke="#222" stroke-width="0.6"/><path d="M455.2 297.8 L455.2 299.08" stroke="#222" stroke-width="0.6"/><path d="M469.8 297.8 L469.8 300.04" stroke="#222" stroke-width="0.6"/><path d="M484.4 297.8 L484.4 299.08" stroke="#222" stroke-width="0.6"/><path d="M499.0 297.8 L499.0 300.04" stroke="#222" stroke-width="0.6"/><path d="M513.6 297.8 L513.6 299.08" stroke="#222" stroke-width="0.6"/><path d="M528.2 297.8 L528.2 300.04" stroke="#222" stroke-width="0.6"/><path d="M420.5 258.4 L422.4 258.4 M528.2 258.4 L526.3000000000001 258.4" stroke="#222" stroke-width="0.6"/><path d="M420.5 264.1 L422.4 264.1 M528.2 264.1 L526.3000000000001 264.1" stroke="#222" stroke-width="0.6"/><path d="M420.5 269.7 L422.4 269.7 M528.2 269.7 L526.3000000000001 269.7" stroke="#222" stroke-width="0.6"/><path d="M420.5 275.3 L422.4 275.3 M528.2 275.3 L526.3000000000001 275.3" stroke="#222" stroke-width="0.6"/><path d="M420.5 280.9 L422.4 280.9 M528.2 280.9 L526.3000000000001 280.9" stroke="#222" stroke-width="0.6"/><path d="M420.5 286.6 L422.4 286.6 M528.2 286.6 L526.3000000000001 286.6" stroke="#222" stroke-width="0.6"/><path d="M420.5 292.2 L422.4 292.2 M528.2 292.2 L526.3000000000001 292.2" stroke="#222" stroke-width="0.6"/><rect x="420.5" y="72.90" width="107.7" height="44.98" fill="none" stroke="#1a1a1a" stroke-width="1.1"/><rect x="420.5" y="117.88" width="107.7" height="44.98" fill="none" stroke="#1a1a1a" stroke-width="1.1"/><rect x="420.5" y="162.86" width="107.7" height="44.98" fill="none" stroke="#1a1a1a" stroke-width="1.1"/><rect x="420.5" y="207.84" width="107.7" height="44.98" fill="none" stroke="#1a1a1a" stroke-width="1.1"/><rect x="420.5" y="252.82" width="107.7" height="44.98" fill="none" stroke="#1a1a1a" stroke-width="1.1"/><text x="440.6" y="308.5" font-size="6.3" fill="#222" text-anchor="middle" stroke="#222" stroke-width="0.15">400</text><text x="469.8" y="308.5" font-size="6.3" fill="#222" text-anchor="middle" stroke="#222" stroke-width="0.15">500</text><text x="499.0" y="308.5" font-size="6.3" fill="#222" text-anchor="middle" stroke="#222" stroke-width="0.15">600</text><text x="528.2" y="308.5" font-size="6.3" fill="#222" text-anchor="middle" stroke="#222" stroke-width="0.15">700</text><text x="474" y="319" font-size="6.6" fill="#222" text-anchor="middle" stroke="#222" stroke-width="0.15">Wavelength (nm)</text><text transform="translate(412.7 186.2) rotate(-90)" font-size="6.86" fill="#222" text-anchor="middle" stroke="#222" stroke-width="0.15">Normalized absorption (a.u.)</text><text transform="translate(539.6 186.4) rotate(-90)" font-size="6.86" fill="#222" text-anchor="middle" stroke="#222" stroke-width="0.15">Normalized emission (a.u.)</text><clipPath id="dclip"><rect x="420.5" y="72.9" width="107.7" height="224.9"/></clipPath><path d="M420.50 77.30 C420.92 77.45 422.08 77.83 423.00 78.20 C423.92 78.57 424.83 78.95 426.00 79.50 C427.17 80.05 428.75 80.67 430.00 81.50 C431.25 82.33 432.33 83.57 433.50 84.50 C434.67 85.43 435.92 86.55 437.00 87.10 C438.08 87.65 438.93 87.62 440.00 87.80 C441.07 87.98 442.32 88.00 443.40 88.20 C444.48 88.40 445.60 88.63 446.50 89.00 C447.40 89.37 447.68 89.45 448.80 90.40 C449.92 91.35 451.75 92.85 453.20 94.70 C454.65 96.55 456.40 99.73 457.50 101.50 C458.60 103.27 459.10 104.45 459.80 105.30 C460.50 106.15 461.08 106.65 461.70 106.60 C462.32 106.55 462.78 106.43 463.50 105.00 C464.22 103.57 465.22 99.73 466.00 98.00 C466.78 96.27 467.45 95.00 468.20 94.60 C468.95 94.20 469.70 94.93 470.50 95.60 C471.30 96.27 472.10 97.53 473.00 98.60 C473.90 99.67 474.13 100.02 475.90 102.00 C477.67 103.98 481.02 108.43 483.60 110.50 C486.18 112.57 489.00 113.48 491.40 114.40 C493.80 115.32 495.43 115.58 498.00 116.00 C500.57 116.42 503.63 116.68 506.80 116.90 C509.97 117.12 513.47 117.20 517.00 117.30 C520.53 117.40 526.17 117.47 528.00 117.50" fill="none" stroke="#d8403f" stroke-width="1.35" clip-path="url(#dclip)"/><path d="M476.70 101.20 C477.17 100.75 478.45 99.37 479.50 98.50 C480.55 97.63 481.80 96.50 483.00 96.00 C484.20 95.50 485.53 95.28 486.70 95.50 C487.87 95.72 488.45 95.97 490.00 97.30 C491.55 98.63 493.72 101.30 496.00 103.50 C498.28 105.70 501.12 108.48 503.70 110.50 C506.28 112.52 509.12 114.52 511.50 115.60 C513.88 116.68 515.33 116.68 518.00 117.00 C520.67 117.32 525.92 117.42 527.50 117.50" fill="none" stroke="#d8403f" stroke-width="1.2" stroke-dasharray="2.2 1.5" clip-path="url(#dclip)"/><text x="525" y="83.6" font-size="6.6" fill="#d8403f" text-anchor="end" stroke="#d8403f" stroke-width="0.15">Cs<tspan font-size="4.2" dy="1">3</tspan><tspan dy="-1">Bi</tspan><tspan font-size="4.2" dy="1">2</tspan><tspan dy="-1">I</tspan><tspan font-size="4.2" dy="1">9</tspan></text><path d="M420.50 124.50 C421.00 124.48 422.48 124.38 423.50 124.40 C424.52 124.42 425.12 124.28 426.60 124.60 C428.08 124.92 430.23 125.37 432.40 126.30 C434.57 127.23 437.22 128.75 439.60 130.20 C441.98 131.65 444.80 133.97 446.70 135.00 C448.60 136.03 449.45 136.13 451.00 136.40 C452.55 136.67 454.32 136.60 456.00 136.60 C457.68 136.60 459.28 136.58 461.10 136.40 C462.92 136.22 465.35 135.77 466.90 135.50 C468.45 135.23 469.38 134.88 470.40 134.80 C471.42 134.72 472.15 134.75 473.00 135.00 C473.85 135.25 474.75 135.70 475.50 136.30 C476.25 136.90 476.60 137.42 477.50 138.60 C478.40 139.78 479.32 141.58 480.90 143.40 C482.48 145.22 484.55 147.67 487.00 149.50 C489.45 151.33 492.53 153.08 495.60 154.40 C498.67 155.72 501.93 156.48 505.40 157.40 C508.87 158.32 512.70 159.07 516.40 159.90 C520.10 160.73 525.73 161.98 527.60 162.40" fill="none" stroke="#ec8a3c" stroke-width="1.35" clip-path="url(#dclip)"/><path d="M468.50 150.60 C469.00 150.17 470.45 148.80 471.50 148.00 C472.55 147.20 473.43 147.08 474.80 145.80 C476.17 144.52 478.38 141.57 479.70 140.30 C481.02 139.03 481.68 138.40 482.70 138.20 C483.72 138.00 484.47 138.23 485.80 139.10 C487.13 139.97 488.87 141.57 490.70 143.40 C492.53 145.23 494.55 148.07 496.80 150.10 C499.05 152.13 501.75 154.17 504.20 155.60 C506.65 157.03 508.85 157.78 511.50 158.70 C514.15 159.62 517.42 160.48 520.10 161.10 C522.78 161.72 526.35 162.18 527.60 162.40" fill="none" stroke="#ec8a3c" stroke-width="1.2" stroke-dasharray="2.2 1.5" clip-path="url(#dclip)"/><text x="525" y="129.7" font-size="6.6" fill="#e8874a" text-anchor="end" stroke="#e8874a" stroke-width="0.15">Cs<tspan font-size="4.2" dy="1">3</tspan><tspan dy="-1">Bi</tspan><tspan font-size="4.2" dy="1">2</tspan><tspan dy="-1">(I</tspan><tspan font-size="4.2" dy="1">0.5</tspan><tspan dy="-1">Br</tspan><tspan font-size="4.2" dy="1">0.5</tspan><tspan dy="-1">)</tspan><tspan font-size="4.2" dy="1">9</tspan></text><path d="M420.50 166.30 C421.03 166.67 422.20 167.18 423.70 168.50 C425.20 169.82 427.82 172.42 429.50 174.20 C431.18 175.98 432.12 177.63 433.80 179.20 C435.48 180.77 438.12 182.38 439.60 183.60 C441.08 184.82 441.87 186.27 442.70 186.50 C443.53 186.73 443.80 186.68 444.60 185.00 C445.40 183.32 446.55 178.80 447.50 176.40 C448.45 174.00 449.47 171.80 450.30 170.60 C451.13 169.40 451.78 169.15 452.50 169.20 C453.22 169.25 453.88 169.70 454.60 170.90 C455.32 172.10 456.07 174.33 456.80 176.40 C457.53 178.47 458.05 181.38 459.00 183.30 C459.95 185.22 460.95 186.67 462.50 187.90 C464.05 189.13 466.22 189.78 468.30 190.70 C470.38 191.62 471.47 192.15 475.00 193.40 C478.53 194.65 485.05 196.90 489.50 198.20 C493.95 199.50 497.62 200.35 501.70 201.20 C505.78 202.05 509.68 202.67 514.00 203.30 C518.32 203.93 525.33 204.72 527.60 205.00" fill="none" stroke="#62b848" stroke-width="1.35" clip-path="url(#dclip)"/><path d="M454.60 203.50 C454.97 201.37 456.07 194.98 456.80 190.70 C457.53 186.42 458.33 180.78 459.00 177.80 C459.67 174.82 460.22 173.40 460.80 172.80 C461.38 172.20 461.73 172.65 462.50 174.20 C463.27 175.75 464.20 179.35 465.40 182.10 C466.60 184.85 468.27 188.13 469.70 190.70 C471.13 193.27 472.75 195.55 474.00 197.50 C475.25 199.45 475.63 200.97 477.20 202.40 C478.77 203.83 481.77 205.28 483.40 206.10 C485.03 206.92 486.40 207.10 487.00 207.30" fill="none" stroke="#62b848" stroke-width="1.2" stroke-dasharray="2.2 1.5" clip-path="url(#dclip)"/><text x="525" y="175.5" font-size="6.6" fill="#4cb88e" text-anchor="end" stroke="#4cb88e" stroke-width="0.15">Cs<tspan font-size="4.2" dy="1">3</tspan><tspan dy="-1">Bi</tspan><tspan font-size="4.2" dy="1">2</tspan><tspan dy="-1">Br</tspan><tspan font-size="4.2" dy="1">9</tspan></text><path d="M420.50 213.50 C420.68 214.82 420.93 218.65 421.60 221.40 C422.27 224.15 423.42 227.85 424.50 230.00 C425.58 232.15 426.92 233.30 428.10 234.30 C429.28 235.30 430.42 236.00 431.60 236.00 C432.78 236.00 433.87 235.78 435.20 234.30 C436.53 232.82 438.35 228.65 439.60 227.10 C440.85 225.55 441.75 225.00 442.70 225.00 C443.65 225.00 444.38 225.78 445.30 227.10 C446.22 228.42 447.00 231.22 448.20 232.90 C449.40 234.58 450.35 235.65 452.50 237.20 C454.65 238.75 457.92 240.73 461.10 242.20 C464.28 243.67 467.67 244.90 471.60 246.00 C475.53 247.10 480.32 248.10 484.70 248.80 C489.08 249.50 493.52 249.78 497.90 250.20 C502.28 250.62 506.05 250.92 511.00 251.30 C515.95 251.68 524.83 252.30 527.60 252.50" fill="none" stroke="#2a9446" stroke-width="1.35" clip-path="url(#dclip)"/><path d="M440.30 240.30 C441.02 239.18 443.40 235.92 444.60 233.60 C445.80 231.28 446.62 228.25 447.50 226.40 C448.38 224.55 449.07 222.73 449.90 222.50 C450.73 222.27 451.47 223.40 452.50 225.00 C453.53 226.60 454.67 229.60 456.10 232.10 C457.53 234.60 459.30 237.67 461.10 240.00 C462.90 242.33 464.98 244.53 466.90 246.10 C468.82 247.67 470.92 248.50 472.60 249.40 C474.28 250.30 475.60 250.98 477.00 251.50 C478.40 252.02 480.33 252.33 481.00 252.50" fill="none" stroke="#2a9446" stroke-width="1.2" stroke-dasharray="2.2 1.5" clip-path="url(#dclip)"/><text x="525" y="218.6" font-size="6.6" fill="#2a8a5e" text-anchor="end" stroke="#2a8a5e" stroke-width="0.15">Cs<tspan font-size="4.2" dy="1">3</tspan><tspan dy="-1">Bi</tspan><tspan font-size="4.2" dy="1">2</tspan><tspan dy="-1">(Br</tspan><tspan font-size="4.2" dy="1">0.5</tspan><tspan dy="-1">Cl</tspan><tspan font-size="4.2" dy="1">0.5</tspan><tspan dy="-1">)</tspan><tspan font-size="4.2" dy="1">9</tspan></text><path d="M420.50 257.70 C420.57 258.67 420.60 261.33 420.90 263.50 C421.20 265.67 421.70 268.07 422.30 270.70 C422.90 273.33 423.78 277.03 424.50 279.30 C425.22 281.57 426.00 283.22 426.60 284.30 C427.20 285.38 427.50 285.80 428.10 285.80 C428.70 285.80 429.48 285.27 430.20 284.30 C430.92 283.33 431.68 281.23 432.40 280.00 C433.12 278.77 433.90 277.30 434.50 276.90 C435.10 276.50 435.40 276.83 436.00 277.60 C436.60 278.37 437.15 280.38 438.10 281.50 C439.05 282.62 440.27 283.47 441.70 284.30 C443.13 285.13 444.42 285.70 446.70 286.50 C448.98 287.30 452.28 288.33 455.40 289.10 C458.52 289.87 461.50 290.40 465.40 291.10 C469.30 291.80 474.28 292.65 478.80 293.30 C483.32 293.95 487.92 294.53 492.50 295.00 C497.08 295.47 500.45 295.67 506.30 296.10 C512.15 296.53 524.05 297.35 527.60 297.60" fill="none" stroke="#2c4c9c" stroke-width="1.35" clip-path="url(#dclip)"/><path d="M434.50 293.70 C434.75 292.13 435.40 286.82 436.00 284.30 C436.60 281.78 437.15 280.03 438.10 278.60 C439.05 277.17 440.38 275.87 441.70 275.70 C443.02 275.53 444.45 276.52 446.00 277.60 C447.55 278.68 449.32 280.48 451.00 282.20 C452.68 283.92 454.68 286.18 456.10 287.90 C457.52 289.62 458.43 290.85 459.50 292.50 C460.57 294.15 462.00 296.92 462.50 297.80" fill="none" stroke="#2c4c9c" stroke-width="1.2" stroke-dasharray="2.2 1.5" clip-path="url(#dclip)"/><text x="525" y="264" font-size="6.6" fill="#3a4a9a" text-anchor="end" stroke="#3a4a9a" stroke-width="0.15">Cs<tspan font-size="4.2" dy="1">3</tspan><tspan dy="-1">Bi</tspan><tspan font-size="4.2" dy="1">2</tspan><tspan dy="-1">Cl</tspan><tspan font-size="4.2" dy="1">9</tspan></text><path d="M61.4 150 Q63 152 70 160 L82 181 Q90.5 184.5 99 181 L112 160 Q118 152 119.6 150 Z" fill="url(#gFun)"/><ellipse cx="90.5" cy="150" rx="29.1" ry="3.4" fill="#eeeeee" stroke="#c4c4c4" stroke-width="1.5"/><path d="M81.5 188.5 Q89 185.2 97.5 188.5 Q101 195 108 204 L116.6 217.5 Q88.6 227 60.8 217.5 L70 204 Q77 195 81.5 188.5 Z" fill="url(#gCone)"/><path d="M60.8 217.5 Q88.6 227 116.6 217.5 L116.6 218.2 Q88.6 225.5 60.8 218.2 Z" fill="#c6c6c6"/><ellipse cx="90" cy="198" rx="15.9" ry="4.1" fill="url(#gEl)"/><ellipse cx="90.6" cy="212.2" rx="25" ry="6.9" fill="url(#gEl)"/><text x="90.5" y="200.3" font-size="6.2" fill="#666" text-anchor="middle" stroke="#666" stroke-width="0.15">Pm3m</text><text x="90.6" y="215.1" font-size="7.2" fill="#666" text-anchor="middle" stroke="#666" stroke-width="0.15">P6<tspan font-size="5" dy="0.8">3</tspan><tspan dy="-0.8">/mmc</tspan></text><circle cx="79.4" cy="155.1" r="10.3" fill="url(#gRb)"/><circle cx="100.5" cy="159.4" r="10.1" fill="url(#gPb)"/><circle cx="97" cy="144" r="10.3" fill="#a9c6e4"/><circle cx="88.8" cy="174" r="10.5" fill="#dccba2"/><text x="97" y="146.6" font-size="7.2" fill="#1e2430" text-anchor="middle" stroke="#1e2430" stroke-width="0.15">Cs</text><text x="79.4" y="157.7" font-size="7.2" fill="#4a4e58" text-anchor="middle" stroke="#4a4e58" stroke-width="0.15">Rb</text><text x="101.5" y="162" font-size="7.2" fill="#8a3c3c" text-anchor="middle" stroke="#8a3c3c" stroke-width="0.15">Pb</text><text x="88.8" y="176.6" font-size="7.2" fill="#6a665e" text-anchor="middle" stroke="#6a665e" stroke-width="0.15">Sn</text><text x="33.1" y="170.9" font-size="6.5" fill="#222" stroke="#222" stroke-width="0.15">Precursors</text><text x="87" y="232.2" font-size="6.6" fill="#222" text-anchor="middle" stroke="#222" stroke-width="0.15">Structures of interest</text><path d="M107.7 180.7 L120 180.7" stroke="#b2b2b2" stroke-width="1"/><path d="M118.5 179 L122 180.7 L118.5 182.4" fill="none" stroke="#b2b2b2" stroke-width="1"/><path d="M107 294.8 L119.5 294.8" stroke="#b2b2b2" stroke-width="1"/><path d="M118 293.1 L121.5 294.8 L118 296.5" fill="none" stroke="#b2b2b2" stroke-width="1"/><rect x="123" y="167" width="60.0" height="22.6" rx="3" fill="#b1b1b1"/><text x="153.0" y="176.8" font-size="7.2" font-weight="bold" fill="#1a1a1a" stroke="none" text-anchor="middle">Simulated</text><text x="153.0" y="185.8" font-size="7.2" font-weight="bold" fill="#1a1a1a" stroke="none" text-anchor="middle">PXRD Patterns</text><rect x="196.4" y="218.4" width="56.6" height="18.5" rx="3" fill="#b1b1b1"/><text x="224.7" y="225.7" font-size="7.2" font-weight="bold" fill="#1a1a1a" stroke="none" text-anchor="middle">Data</text><text x="224.7" y="233.9" font-size="7.2" font-weight="bold" fill="#1a1a1a" stroke="none" text-anchor="middle">Augmentation</text><rect x="123" y="283.1" width="60.0" height="22.7" rx="3" fill="#b1b1b1"/><text x="153.0" y="292.6" font-size="7.2" font-weight="bold" fill="#1a1a1a" stroke="none" text-anchor="middle">Experimental</text><text x="153.0" y="301.6" font-size="7.2" font-weight="bold" fill="#1a1a1a" stroke="none" text-anchor="middle">PXRD Patterns</text><rect x="263.9" y="167.2" width="40.4" height="15.1" rx="3" fill="#b1b1b1"/><text x="284.1" y="177.3" font-size="7.1" font-weight="bold" fill="#1a1a1a" stroke="none" text-anchor="middle">Training</text><text x="152" y="154.2" font-size="6.6" fill="#222" text-anchor="middle" stroke="#222" stroke-width="0.15">ICSD</text><path d="M152 157 L152 164.5" stroke="#b2b2b2" stroke-width="0.8" stroke-dasharray="1 1"/><path d="M150.8 163 L152 165.5 L153.2 163" fill="none" stroke="#b2b2b2" stroke-width="0.8"/><path d="M182.6 178.3 L189.9 178.3 L189.9 227.7 L194.5 227.7" fill="none" stroke="#b2b2b2" stroke-width="1"/><path d="M193 226 L196.3 227.7 L193 229.4" fill="none" stroke="#b2b2b2" stroke-width="1"/><text transform="translate(174.8 210.4) rotate(-90)" font-size="6.5" fill="#222" text-anchor="middle" stroke="#222" stroke-width="0.15">Labeled</text><text transform="translate(183.2 210.7) rotate(-90)" font-size="6.4" fill="#222" text-anchor="middle" stroke="#222" stroke-width="0.15">compounds</text><text x="224" y="206" font-size="6.4" fill="#222" text-anchor="middle" stroke="#222" stroke-width="0.15">Patterns</text><path d="M224 217.5 L224 209.5" stroke="#b2b2b2" stroke-width="0.8" stroke-dasharray="1 1"/><path d="M222.8 211 L224 208.5 L225.2 211" fill="none" stroke="#b2b2b2" stroke-width="0.8"/><path d="M182.7 294.3 L217.1 294.3 M206.4 294.3 L206.4 238.5 M217.1 294.3 L217.1 238.5" fill="none" stroke="#b2b2b2" stroke-width="1"/><path d="M204.8 240 L206.4 236.8 L208 240 M215.5 240 L217.1 236.8 L218.7 240" fill="none" stroke="#b2b2b2" stroke-width="1"/><text transform="translate(191.5 263.5) rotate(-90)" font-size="6.4" fill="#222" text-anchor="middle" stroke="#222" stroke-width="0.15">Manually</text><text transform="translate(200.2 263.9) rotate(-90)" font-size="6.4" fill="#222" text-anchor="middle" stroke="#222" stroke-width="0.15">Labeled</text><text transform="translate(226.8 264.2) rotate(-90)" font-size="6.4" fill="#222" text-anchor="middle" stroke="#222" stroke-width="0.15">Unlabeled</text><path d="M252.5 227.1 L319.5 227.1" stroke="#b2b2b2" stroke-width="1"/><path d="M318 225.4 L321.5 227.1 L318 228.8" fill="none" stroke="#b2b2b2" stroke-width="1"/><path d="M257.9 227.1 L257.9 175.4 L261.5 175.4" fill="none" stroke="#b2b2b2" stroke-width="1"/><path d="M259.4 173.3 L262.8 175.4 L259.4 177.5" fill="none" stroke="#b2b2b2" stroke-width="1"/><path d="M304.1 175.1 L345.7 175.1 L345.7 200.5" fill="none" stroke="#b2b2b2" stroke-width="1"/><path d="M343.6 198.6 L345.7 202 L347.8 198.6" fill="none" stroke="#b2b2b2" stroke-width="1"/><text x="262.3" y="195.6" font-size="6.4" fill="#222" stroke="#222" stroke-width="0.15">Simulated patterns+</text><text x="262.3" y="203.9" font-size="6.4" fill="#222" stroke="#222" stroke-width="0.15">80% Labeled</text><text x="262.3" y="211.4" font-size="6.4" fill="#222" stroke="#222" stroke-width="0.15">Experimental</text><circle cx="345.9" cy="227.1" r="24.2" fill="#b9b9b9"/><rect x="327.8" y="214.3" width="17" height="12.4" rx="1.6" fill="#6a82aa"/><rect x="347" y="218.5" width="17.8" height="12.2" rx="1.6" fill="#6a9b80"/><rect x="332.9" y="231.5" width="17" height="12.1" rx="1.6" fill="#b9875c"/><text x="336.3" y="223.3" font-size="7.1" font-weight="bold" fill="#111" stroke="none" text-anchor="middle">0D</text><text x="356" y="227" font-size="7.1" font-weight="bold" fill="#111" stroke="none" text-anchor="middle">2D</text><text x="341.4" y="240" font-size="7.1" fill="#3a2818" text-anchor="middle" stroke="#3a2818" stroke-width="0.15">3D</text><text x="345.2" y="266.2" font-size="6.6" fill="#222" text-anchor="middle" stroke="#222" stroke-width="0.15">Dimensionality</text><text x="345.2" y="274.0" font-size="6.6" fill="#222" text-anchor="middle" stroke="#222" stroke-width="0.15">classification</text><text x="345.2" y="281.7" font-size="6.6" fill="#222" text-anchor="middle" stroke="#222" stroke-width="0.15">of 75 compounds</text><text x="345.2" y="289.5" font-size="6.6" fill="#222" text-anchor="middle" stroke="#222" stroke-width="0.15">and alloyes</text><path d="M48.6 301.5 L97.7 297 L111.4 304.4 L63.6 310.2 Z" fill="url(#gFilm)"/><path d="M48.6 301.5 L63.6 310.2 L63.6 312.4 L48.6 303.5 Z" fill="#5c5c64"/><path d="M63.6 310.2 L111.4 304.4 L111.4 306.3 L63.6 312.4 Z" fill="#7c7c84"/><path d="M37.1 271.2 L82 305.7 L117.3 282.6" fill="none" stroke="#7a7a80" stroke-width="0.7"/><path d="M37.5 271.5 L47 278.5" stroke="#a8d4f0" stroke-width="1.6" opacity="0.7"/><rect x="-2.8" y="-9.2" width="5.6" height="18.4" rx="1" fill="#94ccf0" stroke="#c0e0f6" stroke-width="0.5" transform="translate(29.4 265.4) rotate(-55.6)"/><rect x="-2.8" y="-10.8" width="5.6" height="21.6" rx="1" fill="#94ccf0" stroke="#c0e0f6" stroke-width="0.5" transform="translate(126.3 276.8) rotate(57)"/><text transform="translate(57.9 277.8) rotate(39)" font-size="6.4" fill="#222" text-anchor="middle" stroke="#222" stroke-width="0.15">Incident X-ray beam</text><text transform="translate(109.6 278.6) rotate(-35)" font-size="6.4" fill="#222" text-anchor="middle" stroke="#222" stroke-width="0.15">Detector</text><text x="82.8" y="322.1" font-size="6.5" fill="#222" text-anchor="middle" stroke="#222" stroke-width="0.15">Thin film</text></svg></body></html>
